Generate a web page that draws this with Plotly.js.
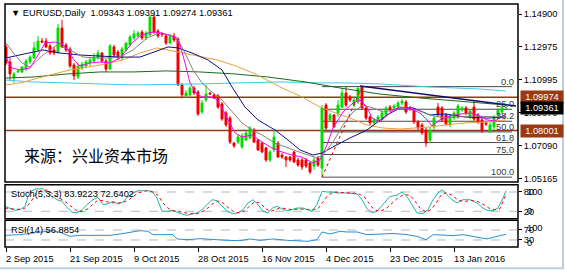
<!DOCTYPE html>
<html><head><meta charset="utf-8">
<script src="https://cdn.plot.ly/plotly-3.0.1.min.js"></script>
<style>html,body{margin:0;padding:0;background:#fff}#chart{width:565px;height:272px}</style>
</head><body><div id="chart"></div>
<script>
// ---- data (bar index 0..125, daily EURUSD) ----
const open = [1.1295,1.1206,1.1111,1.1147,1.1147,1.1164,1.1206,1.1230,1.1277,1.1330,1.1330,1.1301,1.1277,1.1265,1.1407,1.1307,1.1283,1.1188,1.1117,1.1170,1.1182,1.1200,1.1212,1.1230,1.1259,1.1212,1.1164,1.1295,1.1265,1.1230,1.1277,1.1307,1.1348,1.1360,1.1383,1.1348,1.1366,1.1472,1.1389,1.1372,1.1360,1.1318,1.1360,1.1342,1.1070,1.1005,1.1011,1.1052,1.1028,1.0910,1.0981,1.1022,1.1011,1.1005,1.0957,1.0904,1.0874,1.0726,1.0732,1.0703,1.0744,1.0756,1.0803,1.0744,1.0726,1.0697,1.0626,1.0685,1.0726,1.0655,1.0643,1.0643,1.0673,1.0626,1.0626,1.0626,1.0608,1.0590,1.0638,1.0578,1.0951,1.0863,1.0892,1.0904,1.0939,1.1022,1.0999,1.0951,1.0969,1.1058,1.0934,1.0880,1.0845,1.0863,1.0874,1.0892,1.0939,1.0934,1.0939,1.0963,1.0969,1.0934,1.0922,1.0851,1.0833,1.0803,1.0744,1.0821,1.0939,1.0934,1.0892,1.0833,1.0874,1.0880,1.0922,1.0934,1.0880,1.0939,1.0892,1.0863,1.0845,1.0797,1.0821,1.0892,1.0910,1.09343];
const high = [1.1307,1.1230,1.1147,1.1159,1.1182,1.1224,1.1247,1.1324,1.1360,1.1348,1.1348,1.1312,1.1295,1.1431,1.1455,1.1318,1.1295,1.1200,1.1200,1.1206,1.1218,1.1235,1.1259,1.1277,1.1265,1.1224,1.1312,1.1307,1.1277,1.1295,1.1324,1.1366,1.1395,1.1389,1.1395,1.1389,1.1484,1.1490,1.1401,1.1383,1.1366,1.1372,1.1378,1.1354,1.1082,1.1040,1.1064,1.1064,1.1040,1.0981,1.1070,1.1028,1.1016,1.1016,1.0969,1.0916,1.0886,1.0732,1.0774,1.0785,1.0797,1.0827,1.0815,1.0750,1.0732,1.0703,1.0685,1.0803,1.0738,1.0667,1.0649,1.0649,1.0679,1.0638,1.0638,1.0638,1.0614,1.0643,1.0649,1.0951,1.0963,1.0904,1.0898,1.0981,1.1052,1.1058,1.1011,1.0999,1.1052,1.1060,1.0945,1.0892,1.0874,1.0892,1.0922,1.0945,1.0951,1.0957,1.0975,1.0987,1.0981,1.0945,1.0934,1.0863,1.0845,1.0815,1.0821,1.0886,1.0963,1.0945,1.0904,1.0898,1.0916,1.0957,1.0945,1.0945,1.0928,1.0981,1.0904,1.0874,1.0851,1.0851,1.0892,1.0934,1.0951,1.09391];
const low = [1.1188,1.1099,1.1082,1.1141,1.1141,1.1153,1.1194,1.1224,1.1265,1.1318,1.1289,1.1247,1.1247,1.1253,1.1289,1.1265,1.1170,1.1099,1.1105,1.1159,1.1170,1.1182,1.1200,1.1218,1.1200,1.1147,1.1159,1.1230,1.1218,1.1218,1.1265,1.1295,1.1336,1.1354,1.1336,1.1336,1.1360,1.1372,1.1348,1.1354,1.1307,1.1312,1.1324,1.1064,1.0999,1.0993,1.1005,1.1011,1.0886,1.0898,1.0969,1.1011,1.0987,1.0928,1.0857,1.0821,1.0720,1.0697,1.0720,1.0691,1.0738,1.0750,1.0726,1.0679,1.0667,1.0614,1.0614,1.0673,1.0638,1.0632,1.0584,1.0614,1.0608,1.0584,1.0567,1.0578,1.0543,1.0567,1.0584,1.0524,1.0803,1.0851,1.0815,1.0880,1.0934,1.0939,1.0969,1.0939,1.0957,1.0922,1.0863,1.0833,1.0833,1.0851,1.0863,1.0880,1.0910,1.0922,1.0928,1.0951,1.0898,1.0916,1.0839,1.0803,1.0774,1.0703,1.0726,1.0803,1.0880,1.0851,1.0827,1.0821,1.0863,1.0868,1.0910,1.0892,1.0868,1.0857,1.0839,1.0786,1.0827,1.0786,1.0803,1.0874,1.0898,1.09274];
const close = [1.1200,1.1135,1.1135,1.1153,1.1176,1.1212,1.1235,1.1289,1.1330,1.1324,1.1295,1.1259,1.1259,1.1407,1.1295,1.1277,1.1182,1.1123,1.1182,1.1194,1.1206,1.1218,1.1235,1.1259,1.1212,1.1164,1.1301,1.1247,1.1230,1.1283,1.1318,1.1354,1.1372,1.1378,1.1348,1.1378,1.1472,1.1383,1.1360,1.1369,1.1318,1.1354,1.1336,1.1070,1.1011,1.1022,1.1052,1.1022,1.0898,1.0963,1.1016,1.1016,1.0993,1.0939,1.0868,1.0833,1.0732,1.0709,1.0762,1.0768,1.0786,1.0815,1.0732,1.0685,1.0673,1.0626,1.0673,1.0762,1.0643,1.0643,1.0626,1.0626,1.0614,1.0596,1.0584,1.0590,1.0555,1.0626,1.0596,1.0934,1.0815,1.0892,1.0821,1.0951,1.1022,1.0951,1.0981,1.0981,1.1052,1.0934,1.0874,1.0845,1.0863,1.0880,1.0904,1.0934,1.0922,1.0945,1.0963,1.0975,1.0910,1.0928,1.0851,1.0815,1.0786,1.0726,1.0803,1.0874,1.0892,1.0863,1.0839,1.0886,1.0904,1.0945,1.0934,1.0904,1.0916,1.0868,1.0851,1.0797,1.0839,1.0833,1.0880,1.0922,1.0934,1.09361];

// moving averages (bar position, price)
const maFastX = [0,1.5,3.5,6,8,9.75,12.25,14,15.5,17,18.5,21,23.5,26,28.5,31.5,33.5,35.5,37.25,39.75,42.25,43.5,44.75,46,47.5,49,51,52.5,54,55.5,57.25,59,61.5,64,66.5,69,71.5,74,76.75,78.5,80.25,81.75,84.25,86.75,88.5,90.25,91.5,93.5,95.25,96.75,98.5,100.25,101.75,103.5,105.25,106.5,108.5,111,113.5,116.5,118.5,120.25,122.25,125];
const maFastY = [1.1230,1.1170,1.1159,1.1170,1.1247,1.1318,1.1324,1.1312,1.1277,1.1218,1.1182,1.1200,1.1206,1.1200,1.1230,1.1318,1.1360,1.1378,1.1383,1.1372,1.1354,1.1307,1.1200,1.1082,1.1022,1.0999,1.0999,1.0987,1.0934,1.0863,1.0786,1.0762,1.0774,1.0732,1.0697,1.0673,1.0655,1.0643,1.0608,1.0626,1.0715,1.0815,1.0910,1.0963,1.0981,1.0939,1.0874,1.0851,1.0892,1.0922,1.0939,1.0934,1.0922,1.0904,1.0863,1.0827,1.0863,1.0886,1.0898,1.0904,1.0886,1.0863,1.0857,1.0898];
const maMidX = [0,2.25,4,6,9.25,12.75,16,19.25,22.75,26,28.5,31.75,35.25,38.5,40.5,42.75,44.75,46.75,49,51.5,54,56.5,59,61.5,64,67.25,70.5,74,77.75,79.25,81.75,84.25,86.75,89.25,91.75,94.25,96.75,99.25,102.75,106,109.75,116,125];
const maMidY = [1.1318,1.1247,1.1200,1.1176,1.1247,1.1307,1.1277,1.1235,1.1230,1.1230,1.1235,1.1277,1.1348,1.1378,1.1366,1.1348,1.1259,1.1159,1.1082,1.1028,1.0981,1.0910,1.0845,1.0803,1.0774,1.0726,1.0697,1.0667,1.0638,1.0655,1.0732,1.0833,1.0910,1.0951,1.0934,1.0910,1.0922,1.0934,1.0922,1.0892,1.0874,1.0886,1.0880];
const maNavyX = [0,3.5,9.25,13.5,18.5,23.5,28.5,33.5,37.25,40.5,43,46.5,50.5,54,56.5,59.75,63,67.25,70.5,73.5,76.75,79,81.75,86,90.25,95.25,98.5,101.75,106,109.75,114.75,120.5,125];
const maNavyY = [1.1230,1.1247,1.1277,1.1259,1.1247,1.1241,1.1235,1.1235,1.1265,1.1295,1.1289,1.1259,1.1218,1.1159,1.1058,1.0939,1.0863,1.0803,1.0744,1.0685,1.0655,1.0667,1.0703,1.0756,1.0803,1.0892,1.0934,1.0934,1.0892,1.0898,1.0880,1.0874,1.0880];
const maOrangeX = [0,3.5,11,16,23.5,29.25,33.5,37.75,41.75,46.75,52.75,56.75,61.75,65.25,69,74,78.5,81.75,86,90.25,94.25,98.5,102.75,106,109.75,114.75,119.75,125];
const maOrangeY = [1.1070,1.1082,1.1129,1.1159,1.1188,1.1218,1.1259,1.1289,1.1271,1.1247,1.1218,1.1188,1.1141,1.1099,1.1052,1.0999,1.0939,1.0910,1.0874,1.0833,1.0815,1.0809,1.0815,1.0821,1.0833,1.0845,1.0851,1.0863];
const maGreenX = [0,6.75,15.25,23.5,31.75,40.25,48.5,57.25,65.5,74.75,83.5,93.5,103.5,113.5,125];
const maGreenY = [1.1111,1.1117,1.1135,1.1147,1.1147,1.1153,1.1147,1.1135,1.1117,1.1088,1.1052,1.1016,1.0993,1.0975,1.0951];
const maCyanX = [0,6,15.25,31.75,48.5,61,68.5,78.5,85.25,93.5,106,118.5,125];
const maCyanY = [1.1099,1.1088,1.1082,1.1070,1.1076,1.1082,1.1088,1.1082,1.1082,1.1076,1.1058,1.1046,1.1034];

// drawn objects
const levelPrices = [1.09974, 1.08001];
const levelLabels = ['1.09974', '1.08001'];
const lastPrice = 1.09361;
const fibLevels = ['0.0','25.0','38.2','50.0','61.8','75.0','100.0'];
const fibPrices = [1.1060,1.0926,1.0855,1.0792,1.0729,1.0658,1.0524];
const fibStartBar = 79, fibEndBar = 126.5;
const fibDiagX = [79, 89];
const fibDiagY = [1.0524, 1.1060];
const trendX = [88.5, 127.5];
const trendY = [1.1064, 1.0945];

// stochastic (5,3,3)
const stochKX = [-0.25,1,2.25,3.5,4.75,5.5,6.5,7.75,9.25,10.25,11.5,12.75,14,15.25,16.5,17.75,19,20.25,21.75,23,24.25,25.5,26.75,28,29.25,30.5,31.75,33,35.25,36.5,37.75,39,40.25,41.5,42.75,44,45.25,46.5,47.75,49,50.25,51.5,52.75,54,55.25,56.75,58,59.25,60.5,61.75,63,64.25,65.5,66.75,68,69.25,70.5,72.75,74.25,75.5,76.5,77.75,79,80.25,81.5,82.75,85.25,87.75,89,90.25,91.5,92.75,94.25,96,97.75,99,100.25,101.5,102.75,104.25,105.5,106.75,108,109,110.25,111.5,112.75,114.25,116,117.75,119.25,120.5,121.75,123,124.25,125];
const stochK = [35,30,23,25,35,66,84,90,90,77,66,56,51,32,17,15,25,41,56,63,41,43,51,43,49,66,77,84,84,82,61,20,20,23,17,12,7,12,15,25,41,56,53,35,20,12,15,25,46,56,41,20,15,32,35,25,22,30,30,25,20,41,82,80,80,77,77,74,56,28,15,20,41,66,70,80,66,41,15,13,25,56,77,87,72,56,46,56,56,46,30,22,22,30,61,83.9];
const stochDX = [-0.25,1.5,3,4.5,6,7.25,8.75,10.25,11.5,12.75,14,15.25,16.5,17.75,19,20.5,21.75,23,24.5,26,27.5,29,30.5,31.75,33,35.25,36.75,38,39.25,40.5,41.75,43,44.5,46,47.5,49,50.25,51.5,53,54.25,55.5,57,58.5,59.75,61,62.25,63.5,64.75,66,67.25,68.5,70,71.5,73.5,75,76.5,78,79.25,80.5,82,83.5,86,88,89.5,90.75,92,93.5,95,96.5,98,99.5,101,102.25,103.5,105,106.25,107.5,108.75,110,111.5,113,114.5,116.25,118,119.5,121,122.25,123.5,125];
const stochD = [30,28,26,28,45,70,85,86,76,66,57,46,33,21,19,28,42,55,52,47,46,46,54,65,77,84,80,70,45,30,22,20,15,12,12,18,28,42,52,46,32,18,15,22,38,50,46,30,20,24,31,28,25,27,27,25,28,50,70,80,78,77,75,66,45,25,20,28,45,62,72,70,52,30,18,25,45,70,78,70,55,50,54,50,40,28,25,28,72.6];

// RSI(14)
const rsiX = [-0.25,3.5,6.75,9.25,11.75,13.5,16,18.5,21,23.5,26,28.5,31,33.5,35.5,36.75,39.25,41.75,42.75,45.25,48.5,51.75,55.25,58.5,61,63.5,66.75,70.25,71.75,75.5,77.75,79,81,83.5,85.25,87.75,90.25,93.5,96.75,100.25,102.75,105,106.75,110.25,111.75,114.25,116.75,120.25,122.75,125];
const rsiV = [48.7,51.3,58,62,67.3,60.7,44.7,48.7,48.7,51.3,48.7,54,60.7,67.3,64.7,51.3,51.3,51.3,34,31.3,35.3,31.3,28.7,27.3,34,28.7,34,28.7,27.3,24.7,31.3,62,54,64.7,62,62,51.3,54,56,51.3,44.7,31.3,51.3,48.7,47,51.3,44.7,34,44.7,53];

// axis labels
const priceTicks = [1.14900,1.12975,1.10995,1.09070,1.07090,1.05165];
const dateTickBars = [0,16,32,48,64,80,96,112];
const dateTickLabels = ['2 Sep 2015','21 Sep 2015','9 Oct 2015','28 Oct 2015','16 Nov 2015','4 Dec 2015','23 Dec 2015','13 Jan 2016'];
const titleText = '▼ EURUSD,Daily  1.09343 1.09391 1.09274 1.09361';
const sourceText = '来源：兴业资本市场';
const stochTitle = 'Stoch(5,3,3) 83.9223 72.6402';
const rsiTitle = 'RSI(14) 56.8854';

// ---- build ----
const FONT = 'Liberation Sans, Arial, sans-serif';
const FS = 9.3;
const idx = close.map((_, i) => i);

function line(x, y, color, yaxis, extra) {
  return Object.assign({type:'scatter', mode:'lines', x, y, xaxis:'x', yaxis,
    line:{color, width:1}, hoverinfo:'skip'}, extra || {});
}

const traces = [
  {type:'candlestick', x: idx, open, high, low, close, xaxis:'x', yaxis:'y',
   increasing:{line:{color:'#00dd00', width:1}, fillcolor:'#00dd00'},
   decreasing:{line:{color:'#ee0000', width:1}, fillcolor:'#ee0000'},
   whiskerwidth:0, hoverinfo:'skip'},
  line(maCyanX, maCyanY, '#3cc8ec', 'y'),
  line(maGreenX, maGreenY, '#1a6b1a', 'y'),
  line(maOrangeX, maOrangeY, '#eba13a', 'y'),
  line(maNavyX, maNavyY, '#10108a', 'y'),
  line(maMidX, maMidY, '#8a8078', 'y'),
  line(maFastX, maFastY, '#ff00ff', 'y'),
  line(fibDiagX, fibDiagY, '#e00000', 'y', {line:{color:'#e00000', width:1, dash:'dot'}}),
  line(trendX, trendY, '#101070', 'y', {line:{color:'#101070', width:1.5}}),
  line(stochKX, stochK, '#20b2aa', 'y2'),
  line(stochDX, stochD, '#ff0000', 'y2', {line:{color:'#ff0000', width:1, dash:'dot'}}),
  line(rsiX, rsiV, '#2a8fd8', 'y3'),
];

const shapes = [];
// panel frames
const frames = [[0.2675,1],[0.1165,0.2564],[0,0.1099]];
frames.forEach(([a,b]) => shapes.push({type:'rect', xref:'paper', yref:'paper', x0:0, x1:1, y0:a, y1:b,
  line:{color:'#000', width:1.5}, layer:'above'}));
// horizontal price levels
levelPrices.forEach(p => shapes.push({type:'line', xref:'paper', yref:'y', x0:0, x1:1, y0:p, y1:p,
  line:{color:'#8e3a14', width:1.5}, layer:'below'}));
// fibonacci levels
fibPrices.forEach(p => shapes.push({type:'line', xref:'x', yref:'y', x0:fibStartBar, x1:fibEndBar, y0:p, y1:p,
  line:{color:'#4a4a4a', width:1}, layer:'below'}));
// oscillator levels
[20,80].forEach(v => shapes.push({type:'line', xref:'paper', yref:'y2', x0:0, x1:1, y0:v, y1:v,
  line:{color:'#b8b8b8', width:1, dash:'dash'}, layer:'below'}));
[30,70].forEach(v => shapes.push({type:'line', xref:'paper', yref:'y3', x0:0, x1:1, y0:v, y1:v,
  line:{color:'#b8b8b8', width:1, dash:'dash'}, layer:'below'}));
// window edges
shapes.push({type:'line', xref:'paper', yref:'paper', x0:-0.01, x1:1.09, y0:-0.087, y1:-0.087, line:{color:'#b9d0e8', width:2}});
shapes.push({type:'line', xref:'paper', yref:'paper', x0:1.0877, x1:1.0877, y0:-0.09, y1:1.02, line:{color:'#b9d0e8', width:2}});

const font = {family:FONT, size:FS, color:'#000'};
const annotations = [
  {xref:'paper', yref:'paper', x:0.0078, y:0.9642, xanchor:'left', yanchor:'middle', text:titleText, showarrow:false, font},
  {xref:'paper', yref:'paper', x:0.0331, y:0.3786, xanchor:'left', yanchor:'middle', text:sourceText, showarrow:false,
   font:{family:'Noto Sans CJK SC, sans-serif', size:16, color:'#000'}},
  {xref:'paper', yref:'paper', x:0.0078, y:0.2193, xanchor:'left', yanchor:'middle', text:stochTitle, showarrow:false, font},
  {xref:'paper', yref:'paper', x:0.0078, y:0.0700, xanchor:'left', yanchor:'middle', text:rsiTitle, showarrow:false, font},
  // overlapping scale labels
  {xref:'paper', yref:'y2', x:1.0136, y:80, xanchor:'left', yanchor:'middle', text:'100', showarrow:false, font},
  {xref:'paper', yref:'y2', x:1.0136, y:20, xanchor:'left', yanchor:'middle', text:'0', showarrow:false, font},
  {xref:'paper', yref:'y3', x:1.0136, y:70, yshift:2, xanchor:'left', yanchor:'middle', text:'100', showarrow:false, font},
  {xref:'paper', yref:'y3', x:1.0136, y:30, yshift:-3, xanchor:'left', yanchor:'middle', text:'0', showarrow:false, font},
];
dateTickBars.forEach((b, i) => annotations.push({xref:'x', yref:'paper', x:b, y:-0.0494, xanchor:'left', yanchor:'middle',
  xshift:-2, text:dateTickLabels[i], showarrow:false, font}));
fibPrices.forEach((p, i) => annotations.push({xref:'paper', yref:'y', x:0.9961, y:p, xanchor:'right', yanchor:'bottom',
  yshift:-2, text:fibLevels[i], showarrow:false, font:{family:FONT, size:FS, color:'#3a3a3a'}}));
levelPrices.forEach((p, i) => annotations.push({xref:'paper', yref:'y', x:1.0039, y:p, xanchor:'left', yanchor:'middle',
  text:levelLabels[i], showarrow:false, bgcolor:'#9a3a12', borderpad:1, width:40,
  font:{family:FONT, size:FS, color:'#fff'}}));
annotations.push({xref:'paper', yref:'y', x:1.0039, y:lastPrice, xanchor:'left', yanchor:'middle',
  text:lastPrice.toFixed(5), showarrow:false, bgcolor:'#000', borderpad:1, width:40,
  font:{family:FONT, size:FS, color:'#fff'}});

const axisCommon = {showgrid:false, zeroline:false, showline:false, ticks:'outside', ticklen:3,
  tickcolor:'#000', tickfont:font, fixedrange:true, side:'right'};

const layout = {
  width:565, height:272, margin:{l:5, r:47, t:4, b:25, pad:0},
  paper_bgcolor:'#fff', plot_bgcolor:'#fff', showlegend:false, hovermode:false, dragmode:false,
  xaxis:{range:[-0.25, 128], anchor:'y3', showgrid:false, zeroline:false, showline:false,
    ticks:'outside', ticklen:4, tickcolor:'#000', tickvals:dateTickBars, showticklabels:false,
    rangeslider:{visible:false}, fixedrange:true},
  yaxis:Object.assign({}, axisCommon, {domain:[0.2675,1], range:[1.04954,1.15492],
    tickvals:priceTicks, ticktext:priceTicks.map(v => v.toFixed(5))}),
  yaxis2:Object.assign({}, axisCommon, {domain:[0.1165,0.2564], range:[-3,102.7],
    tickvals:[20,80], ticktext:['20','80']}),
  yaxis3:Object.assign({}, axisCommon, {domain:[0,0.1099], range:[2,108.8],
    tickvals:[30,70], ticktext:['30','70']}),
  shapes, annotations
};

Plotly.newPlot('chart', traces, layout, {staticPlot:true, displayModeBar:false});
</script></body></html>
